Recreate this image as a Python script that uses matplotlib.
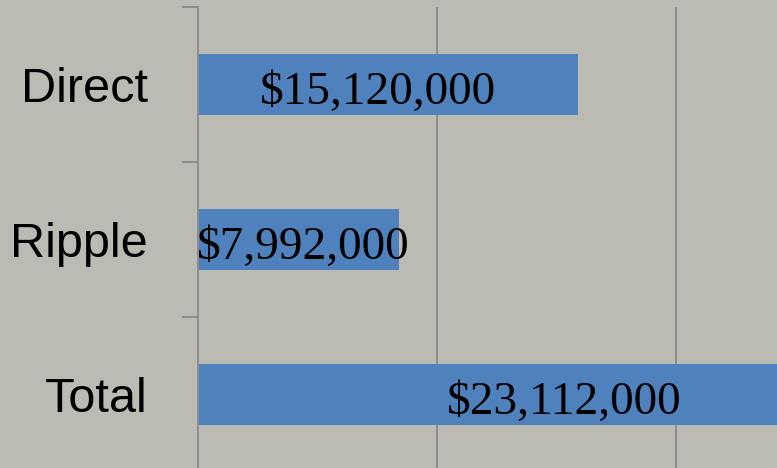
import numpy as np
import matplotlib.pyplot as plt

# data
categories = ["Direct", "Ripple", "Total"]
values = [15120000, 7992000, 23112000]
value_labels = ["$15,120,000", "$7,992,000", "$23,112,000"]

# where each value label sits along its bar (fraction of the bar length)
label_frac = [0.474, 0.523, 0.63]

bg = "#bbbbb3"
bar_color = "#4f81bd"
grid_color = "#8c8c8c"

fig = plt.figure(figsize=(7.77, 4.68), dpi=100)
fig.patch.set_facecolor(bg)

# axes placed to match the original layout (right side of Total bar is cut off)
ax = fig.add_axes([198 / 777, -4 / 468, 579 / 777, 465 / 468])
ax.set_facecolor(bg)

y = np.arange(len(categories))
ax.barh(y, values, height=0.394, color=bar_color, zorder=3)

ax.set_xlim(0, 23.03e6)
ax.set_ylim(2.5, -0.5)

# vertical gridlines
ax.set_xticks([9.5e6, 19.0e6])
ax.xaxis.grid(True, color=grid_color, linewidth=1.4, zorder=1)
ax.tick_params(axis="x", length=0, labelbottom=False)

# category labels and boundary ticks
ax.set_yticks(y)
ax.set_yticklabels(categories, fontfamily="Liberation Sans", fontsize=35)
ax.tick_params(axis="y", which="major", length=0, pad=36)
ax.set_yticks([-0.5, 0.5, 1.5], minor=True)
ax.tick_params(axis="y", which="minor", length=11.5, width=1.4, color=grid_color)

for s in ["top", "right", "bottom"]:
    ax.spines[s].set_visible(False)
ax.spines["left"].set_color(grid_color)
ax.spines["left"].set_linewidth(1.4)
ax.spines["left"].set_zorder(4)

for i, (v, lab) in enumerate(zip(values, value_labels)):
    ax.text(v * label_frac[i], i + 0.05, lab, ha="center", va="center",
            fontfamily="Liberation Serif", fontsize=34, color="black", zorder=5)

fig.savefig("out.png", dpi=100, facecolor=bg)
